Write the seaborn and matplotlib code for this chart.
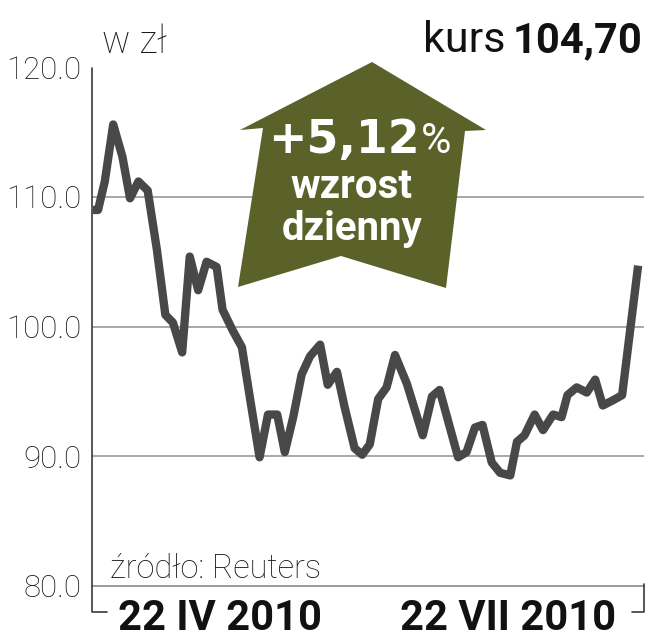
import matplotlib
matplotlib.use("Agg")
import matplotlib.pyplot as plt
import seaborn as sns
import pandas as pd
from matplotlib.patches import Polygon
from matplotlib.lines import Line2D

# ---- data ----
day = [0, 0.6, 1.4, 2.4, 3.5, 4.4, 5.4, 6.5, 7.6, 8.6, 9.5, 10.6, 11.5, 12.5, 13.5,
       14.7, 15.4, 16.6, 17.7, 18.7, 19.8, 20.8, 21.9, 22.8, 23.8, 24.8, 25.8, 27.0,
       27.9, 29.0, 29.9, 31.1, 32.0, 32.9, 33.9, 34.9, 35.9, 37.3, 39.2, 40.3, 41.2,
       43.4, 44.4, 45.4, 46.3, 47.4, 48.4, 49.6, 50.4, 51.3, 52.5, 53.5, 54.7, 55.7,
       56.4, 57.5, 58.7, 59.7, 60.6, 61.8, 62.9, 64.8]
price = [109.0, 109.0, 111.2, 115.6, 113.1, 109.9, 111.2, 110.5, 105.9, 100.9, 100.3,
         98.0, 105.4, 102.8, 105.0, 104.6, 101.3, 99.7, 98.4, 94.3, 89.9, 93.2, 93.2,
         90.3, 93.0, 96.3, 97.7, 98.6, 95.5, 96.5, 93.8, 90.6, 90.1, 90.9, 94.4, 95.3,
         97.8, 95.6, 91.6, 94.6, 95.1, 89.9, 90.3, 92.2, 92.4, 89.5, 88.7, 88.5, 91.1,
         91.6, 93.2, 92.0, 93.2, 93.0, 94.7, 95.3, 94.9, 95.9, 93.9, 94.3, 94.7, 104.7]
y_ticks = [80, 90, 100, 110, 120]
grid_vals = [90, 100, 110]
date_labels = ["22 IV 2010", "22 VII 2010"]
unit_label = "w zł"
source_label = "źródło: Reuters"
kurs_label = "kurs"
kurs_value = "104,70"
change_value = "+5,12"
change_words = ["wzrost", "dzienny"]

df = pd.DataFrame({"day": day, "price": price})

sns.set_style("white")
plt.rcParams["font.family"] = ["Roboto", "DejaVu Sans"]

W, H = 650, 640
fig = plt.figure(figsize=(W / 100, H / 100), dpi=100)


def fx(x):
    return x / W


def fy(y):
    return 1 - y / H


ax = fig.add_axes([fx(92), fy(585.5), fx(644) - fx(92), fy(67.5) - fy(585.5)])
ax.set_xlim(-0.12, 65.5)
ax.set_ylim(80, 120)

for g in grid_vals:
    ax.axhline(g, color="#9a9a9a", lw=1.2, zorder=1)
ax.axhline(80, color="#8a8a8a", lw=1.2, zorder=1, clip_on=False)

sns.lineplot(data=df, x="day", y="price", sort=False, ax=ax, color="#484848",
             linewidth=6.0, zorder=3, solid_joinstyle="round", solid_capstyle="butt")

for s in ax.spines.values():
    s.set_visible(False)
ax.set_xticks([])
ax.set_yticks(y_ticks)
ax.set_yticklabels([f"{v:.1f}" for v in y_ticks], fontsize=22.5, color="#1a1a1a",
                   fontweight="light")
ax.tick_params(axis="y", length=0, pad=7.5)
ax.set_xlabel("")
ax.set_ylabel("")

# axis and brackets
lc = "#3a3a3a"
fig.add_artist(Line2D([fx(92), fx(92), fx(107)], [fy(68), fy(612), fy(612)],
                      color=lc, lw=1.2))
fig.add_artist(Line2D([fx(644), fx(644), fx(632)], [fy(584), fy(612), fy(612)],
                      color=lc, lw=1.2))

# arrow
arrow_px = [(372, 62), (486, 130), (465, 131), (446, 288), (341, 256),
            (238, 287), (263, 128), (240, 130)]
poly = Polygon([(fx(x), fy(y)) for x, y in arrow_px], closed=True,
               transform=fig.transFigure, facecolor="#5a6129", edgecolor="none",
               zorder=5)
fig.add_artist(poly)

fig.text(fx(420), fy(153), change_value, ha="right", va="baseline", color="white",
         fontsize=33, fontweight="bold", family=["DejaVu Sans"], zorder=6)
fig.text(fx(421), fy(153), "%", ha="left", va="baseline", color="white",
         fontsize=30, fontweight="normal", zorder=6)
fig.text(fx(351), fy(198), change_words[0], ha="center", va="baseline",
         color="white", fontsize=29, fontweight="bold", zorder=6)
fig.text(fx(352), fy(240), change_words[1], ha="center", va="baseline",
         color="white", fontsize=29, fontweight="bold", zorder=6)

# titles
fig.text(fx(102), fy(53), unit_label, ha="left", va="baseline", fontsize=27,
         color="#1a1a1a", fontweight="light")
tv = fig.text(fx(642), fy(52), kurs_value, ha="right", va="baseline", fontsize=30,
              color="#111111", fontweight="bold")
fig.canvas.draw()
bb = tv.get_window_extent(fig.canvas.get_renderer())
fig.text((bb.x0 - 7) / W, fy(52), kurs_label, ha="right", va="baseline",
         fontsize=31, color="#111111", fontweight="normal")

fig.text(fx(110), fy(578), source_label, ha="left", va="baseline", fontsize=23.5,
         color="#1a1a1a", fontweight="light")
fig.text(fx(220), fy(630), date_labels[0], ha="center", va="baseline", fontsize=30,
         color="#111111", fontweight="bold")
fig.text(fx(508), fy(630), date_labels[1], ha="center", va="baseline", fontsize=30,
         color="#111111", fontweight="bold")

fig.savefig("out.png", dpi=100)
